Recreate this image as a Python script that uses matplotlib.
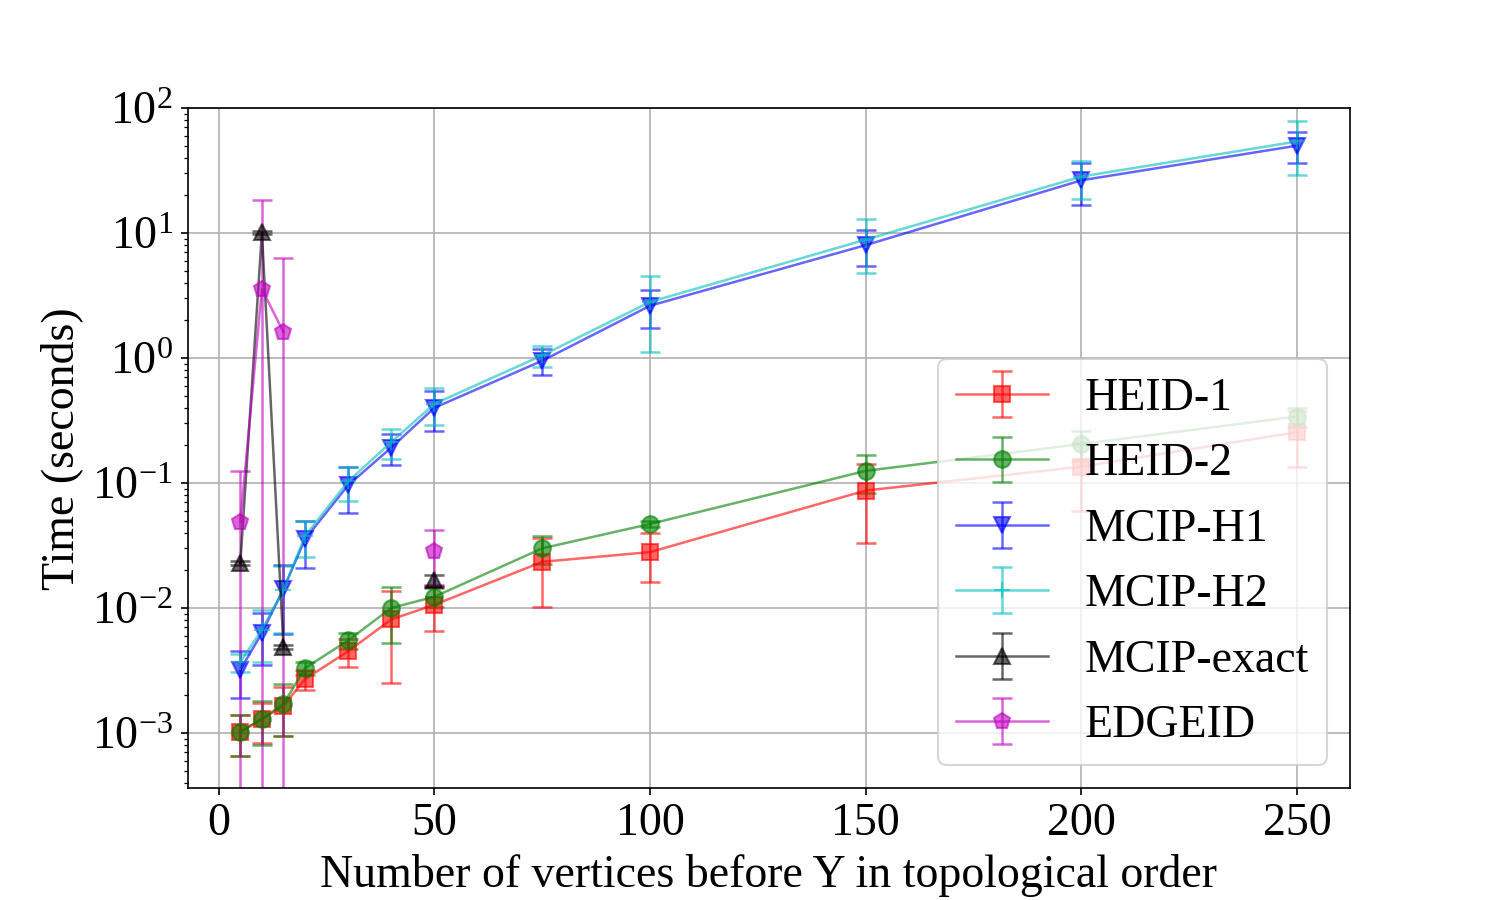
import numpy as np
import matplotlib
matplotlib.use("Agg")
import matplotlib.pyplot as plt

plt.rcParams['font.family'] = ['Liberation Serif', 'DejaVu Serif']
plt.rcParams['mathtext.fontset'] = 'stix'
plt.rcParams['font.size'] = 22

nan = np.nan
x = [5, 10, 15, 20, 30, 40, 50, 75, 100, 150, 200, 250]

heid1_mean = [0.00102, 0.00129, 0.00165, 0.0027, 0.0045, 0.0081, 0.0106, 0.0234, 0.028, 0.087, 0.135, 0.255]
heid1_std = [0.00037, 0.00046, 0.0007, 0.0005, 0.0011, 0.0056, 0.0040, 0.0132, 0.012, 0.054, 0.075, 0.12]

heid2_mean = [0.00102, 0.0013, 0.0017, 0.0033, 0.0055, 0.0100, 0.0123, 0.030, 0.047, 0.125, 0.205, 0.34]
heid2_std = [0.00037, 0.0005, 0.00075, 0.0004, 0.0008, 0.0048, 0.0022, 0.0076, 0.0025, 0.042, 0.055, 0.06]

h1_mean = [0.0032, 0.0063, 0.0142, 0.0355, 0.096, 0.192, 0.40, 0.95, 2.62, 8.0, 26.4, 50.0]
h1_std = [0.0013, 0.0028, 0.008, 0.0145, 0.038, 0.053, 0.14, 0.22, 0.88, 2.6, 9.7, 14.0]

h2_mean = [0.0037, 0.0067, 0.0139, 0.0377, 0.103, 0.2125, 0.43, 1.05, 2.81, 8.85, 28.3, 54.0]
h2_std = [0.0006, 0.003, 0.0076, 0.0123, 0.031, 0.0575, 0.14, 0.2, 1.69, 4.05, 9.7, 25.0]

exact_mean = [0.0228, 10.1, 0.0049, nan, nan, nan, 0.0168, nan, nan, nan, nan, nan]
exact_std = [0.0008, 0.2, 0.0002, nan, nan, nan, 0.0017, nan, nan, nan, nan, nan]

edge_mean = [0.049, 3.55, 1.61, nan, nan, nan, 0.0287, nan, nan, nan, nan, nan]
edge_std = [0.076, 14.7, 4.7, nan, nan, nan, 0.0135, nan, nan, nan, nan, nan]

series = [
    ("HEID-1", heid1_mean, heid1_std, 's', 'r'),
    ("HEID-2", heid2_mean, heid2_std, 'o', 'g'),
    ("MCIP-H1", h1_mean, h1_std, 'v', 'b'),
    ("MCIP-H2", h2_mean, h2_std, '+', 'c'),
    ("MCIP-exact", exact_mean, exact_std, '^', 'k'),
    ("EDGEID", edge_mean, edge_std, 'p', 'm'),
]

fig = plt.figure(figsize=(10, 6), dpi=150)
ax = fig.add_axes([0.125, 0.124, 0.775, 0.756])
ax.set_yscale('log')
for label, m, s, mk, c in series:
    ax.errorbar(x, m, yerr=s, fmt=mk + '-', color=c, alpha=0.6, capsize=5,
                markersize=8, linewidth=1.2, elinewidth=1.2, capthick=1.2, label=label)

ax.set_ylim(3.6e-4, 100)
ax.set_xticks([0, 50, 100, 150, 200, 250])
ax.grid(True, which='major', color='#b0b0b0', linewidth=0.8)
ax.set_xlabel("Number of vertices before Y in topological order")
ax.set_ylabel("Time (seconds)")
ax.legend(loc='lower right')

fig.savefig("out.png", dpi=150)
